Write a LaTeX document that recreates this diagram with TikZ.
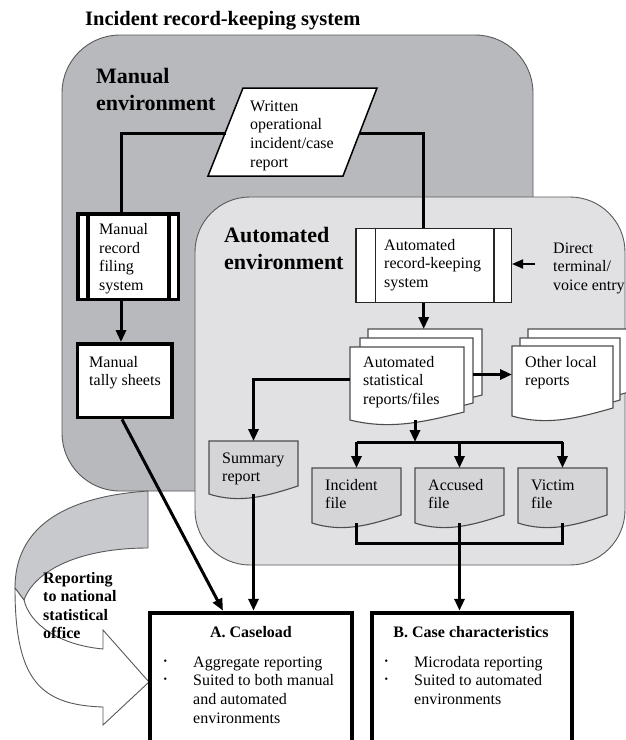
\documentclass[tikz,border=0pt]{standalone}
\usepackage{fontspec}
\setmainfont{Liberation Serif}
\usetikzlibrary{arrows.meta}
\definecolor{manualgray}{HTML}{B8B9BD}
\definecolor{autogray}{HTML}{E1E1E3}
\definecolor{filegray}{HTML}{D5D5D7}
\definecolor{ribbongray}{HTML}{C8C9CC}
\newcommand{\docpath}[6]{%
  \filldraw[docline, fill=#5] (#1,#2) -- (#3,#2) -- (#3,{#4-8}) .. controls ({#1+0.65*(#3-#1)},{#4+2}) and ({#1+0.35*(#3-#1)},{#4+10}) .. (#1,#4) -- cycle;
  \node[frame, minimum width={#3-#1}, minimum height={#4-#2}] (#6) at ({(#1+#3)/2},{(#2+#4)/2}) {};}
\begin{document}
\begin{tikzpicture}[x=1pt,y=-1pt,
  conn/.style={line width=3pt, draw=black},
  arrow/.style={conn, -{Triangle[length=12pt,width=10pt]}},
  thinarrow/.style={line width=1.8pt, draw=black, -{Triangle[length=11pt,width=9pt]}},
  envline/.style={draw=black!65, line width=0.9pt},
  docline/.style={draw=black!70, line width=1.1pt},
  thickbox/.style={draw=black, line width=3.8pt, fill=white, inner sep=0},
  thinbox/.style={draw=black!85, line width=1.3pt, fill=white, inner sep=0},
  bigbox/.style={draw=black, line width=4.5pt, fill=white, inner sep=0},
  frame/.style={draw=none, inner sep=0, outer sep=0},
  txt/.style={anchor=base west, align=left, inner sep=0, font=\fontsize{16}{18.7}\selectfont},
  envlbl/.style={anchor=base west, align=left, inner sep=0, font=\fontsize{22}{27}\selectfont\bfseries},
  titlelbl/.style={anchor=base west, inner sep=0, font=\fontsize{20.5}{24}\selectfont\bfseries},
  boldlbl/.style={anchor=base west, align=left, inner sep=0, font=\fontsize{16}{18.5}\selectfont\bfseries},
  boxtitle/.style={anchor=base, inner sep=0, font=\fontsize{16}{18.5}\selectfont\bfseries},
  bullets/.style={anchor=base west, align=left, inner sep=0, font=\fontsize{10}{18.7}\selectfont}
]
% note: multi-line texts are placed by the baseline of their last line
\useasboundingbox (0,0) rectangle (626,740);
\fill[white] (0,0) rectangle (626,740);

% title
\node[titlelbl] (title) at (85,25) {Incident record-keeping system};

% manual environment
\filldraw[envline, fill=manualgray, rounded corners=58pt] (62,35) rectangle (533,491);

% reporting ribbon
\filldraw[envline, fill=ribbongray] (148,491) .. controls (60,497) and (15,530) .. (15,588) -- (24,600) .. controls (35,570) and (80,548) .. (148,548) -- cycle;
\filldraw[envline, fill=white] (15,588) .. controls (15,680) and (40,705) .. (103,707) -- (103,725) -- (149,682) -- (103,630) -- (103,649) .. controls (60,645) and (30,625) .. (24,600) -- cycle;

% automated environment
\filldraw[envline, fill=autogray, rounded corners=55pt] (195,197) rectangle (625,565);

\node[envlbl] (manuallbl) at (96,110) {Manual\\environment};
\node[envlbl] (autolbl) at (224,269) {Automated\\environment};
\node[boldlbl] (ribbonlbl) at (43,638.5) {Reporting\\to national\\statistical\\office};

% written report
\filldraw[draw=black, line width=1.5pt, fill=white] (243,88) -- (377,88) -- (343,176) -- (208,176) -- cycle;
\coordinate (wL) at (225.5,133);
\coordinate (wR) at (360,133);
\node[txt] (written) at (250,167.1) {Written\\operational\\incident/case\\report};

% manual record filing system
\node[thickbox, minimum width=100.5, minimum height=85.5] (filing) at (128.25,256.75) {};
\draw[line width=3.8pt] ([xshift=11.5pt]filing.north west) -- ([xshift=11.5pt]filing.south west);
\draw[line width=3.8pt] ([xshift=-11.5pt]filing.north east) -- ([xshift=-11.5pt]filing.south east);
\node[txt] (filingtxt) at (99,290.6) {Manual\\record\\filing\\system};

% manual tally sheets
\node[thickbox, minimum width=94.5, minimum height=73.5] (tally) at (124.75,380.75) {};
\node[txt] (tallytxt) at (89,385.7) {Manual\\tally sheets};

% automated record-keeping system
\node[thinbox, minimum width=155.3, minimum height=74.4] (auto) at (433.7,265.5) {};
\draw[line width=1.3pt, black!85] ([xshift=20pt]auto.north west) -- ([xshift=20pt]auto.south west);
\draw[line width=1.3pt, black!85] ([xshift=-18pt]auto.north east) -- ([xshift=-18pt]auto.south east);
\node[txt] (autotxt) at (384,287.4) {Automated\\record-keeping\\system};

\node[txt] (direct) at (553,290.4) {Direct\\terminal/\\voice entry};
\coordinate (dstart) at (535,264);

% statistical reports stack
\docpath{368}{329}{482}{403}{white}{statsback}
\docpath{360}{338}{473}{411}{white}{statsmid}
\docpath{350}{347}{464}{420}{white}{stats}
\node[txt] (statstxt) at (363,404.4) {Automated\\statistical\\reports/files};

% other local reports stack
\docpath{528}{329}{629}{400}{white}{otherback}
\docpath{520}{338}{620}{408}{white}{othermid}
\docpath{512}{346}{613}{416}{white}{other}
\node[txt] (othertxt) at (525,385.7) {Other local\\reports};

% summary and files
\docpath{209}{441}{298}{494}{filegray}{summary}
\node[txt] (summarytxt) at (222,481.7) {Summary\\report};
\docpath{312}{468}{401}{523}{filegray}{incident}
\node[txt] (incidenttxt) at (325,508.7) {Incident\\file};
\docpath{415}{468}{504}{523}{filegray}{accused}
\node[txt] (accusedtxt) at (428,508.7) {Accused\\file};
\docpath{518}{468}{607}{523}{filegray}{victim}
\node[txt] (victimtxt) at (531,508.7) {Victim\\file};

% output boxes
\node[bigbox, minimum width=202, minimum height=130] (A) at (251,678) {};
\node[boxtitle] (Atitle) at (251,637) {A. Caseload};
\node[bullets] (Abul) at (163.5,682.7) {\textbullet\\\textbullet};
\node[txt] (Atxt) at (193,723.1) {Aggregate reporting\\Suited to both manual\\and automated\\environments};

\node[bigbox, minimum width=200, minimum height=130] (B) at (472,678) {};
\node[boxtitle] (Btitle) at (471,637) {B. Case characteristics};
\node[bullets] (Bbul) at (384.5,682.7) {\textbullet\\\textbullet};
\node[txt] (Btxt) at (414,704.4) {Microdata reporting\\Suited to automated\\environments};

% connectors
\draw[conn] (wL) -| ([xshift=-7.25pt]filing.north);
\draw[conn] (wR) -| ([xshift=-10pt]auto.north);
\draw[arrow] ([xshift=-7.25pt]filing.south) -- ([xshift=-3.75pt]tally.north);
\draw[arrow] ([xshift=-2.75pt]tally.south) -- ([xshift=-28pt]A.north);
\draw[thinarrow] (dstart) -- (dstart -| auto.east);
\draw[arrow] ([xshift=-10pt]auto.south) -- ([xshift=-1.3pt]statsback.north);
\draw[arrow] ([yshift=4.5pt]stats.west) -| (summary.north);
\draw[arrow] (statsmid.east) -- (statsmid.east -| other.west);
\draw[arrow] (summary.south) -- (summary.south |- A.north);
\coordinate (split) at (415,442);
\draw[arrow] ([xshift=8pt]stats.south) -- (split);
\draw[conn] (incident.north |- split) -- (victim.north |- split);
\draw[arrow] (incident.north |- split) -- (incident.north);
\draw[arrow] (accused.north |- split) -- (accused.north);
\draw[arrow] (victim.north |- split) -- (victim.north);
\coordinate (join) at (460,543);
\draw[conn] (incident.south) |- (join) -| (victim.south);
\draw[arrow] (accused.south) -- (accused.south |- B.north);
\end{tikzpicture}
\end{document}
